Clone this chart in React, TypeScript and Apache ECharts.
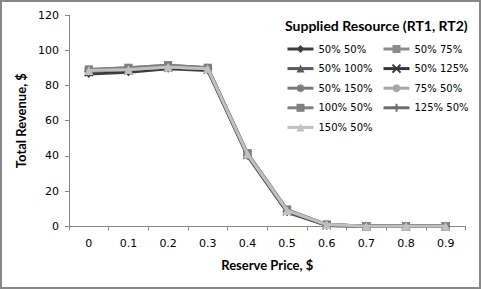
import React, { useEffect, useRef } from "react";
import * as echarts from "echarts";

const categories = ["0", "0.1", "0.2", "0.3", "0.4", "0.5", "0.6", "0.7", "0.8", "0.9"];
const seriesNames = ["50% 50%", "50% 75%", "50% 100%", "50% 125%", "50% 150%", "75% 50%", "100% 50%", "125% 50%", "150% 50%"];
const s50_50 = [86.5, 87.5, 89.5, 88.5, 40, 8, 0.5, 0, 0, 0];
const s50_75 = [89, 90, 91.5, 90, 41.5, 9.5, 1, 0, 0, 0];
const s50_100 = [88, 89, 91, 90, 41, 9, 1, 0, 0, 0];
const s50_125 = [87.5, 88.5, 90, 89, 40.5, 8.5, 0.5, 0, 0, 0];
const s50_150 = [88, 89, 90.5, 89.5, 41, 9, 1, 0, 0, 0];
const s75_50 = [88.5, 89, 90.5, 89.5, 41, 9, 1, 0, 0, 0];
const s100_50 = [89, 90, 91.5, 90, 41.5, 9.5, 1, 0, 0, 0];
const s125_50 = [88, 89, 90.5, 89.5, 40.5, 8.5, 0.5, 0, 0, 0];
const s150_50 = [88.5, 89, 90.5, 89.5, 41, 9, 1, 0, 0, 0];
const yTicks = [0, 20, 40, 60, 80, 100, 120];

const X_SYM = "path://M0,0L10,10M0,10L10,0";
const STAR_SYM = "path://M5,0L5,10M0,5L10,5M1.5,1.5L8.5,8.5M1.5,8.5L8.5,1.5";
const PLUS_SYM = "path://M5,0L5,10M0,5L10,5";

const styles = [
  { color: "#404040", symbol: "diamond", size: 8, stroke: false },
  { color: "#8c8c8c", symbol: "rect", size: 8, stroke: false },
  { color: "#5a5a5a", symbol: "triangle", size: 9, stroke: false },
  { color: "#353535", symbol: X_SYM, size: 8, stroke: true },
  { color: "#7a7a7a", symbol: STAR_SYM, size: 8, stroke: true },
  { color: "#a8a8a8", symbol: "circle", size: 8, stroke: false },
  { color: "#808080", symbol: "rect", size: 8, stroke: false },
  { color: "#6e6e6e", symbol: PLUS_SYM, size: 9, stroke: true },
  { color: "#c0c0c0", symbol: "triangle", size: 9, stroke: false },
];

const dataSets = [s50_50, s50_75, s50_100, s50_125, s50_150, s75_50, s100_50, s125_50, s150_50];

export default function App() {
  const ref = useRef<HTMLDivElement>(null);
  useEffect(() => {
    if (!ref.current) return;
    const chart = echarts.init(ref.current, undefined, { renderer: "svg" });
    const series = seriesNames.map((name, i) => {
      const st = styles[i];
      return {
        name,
        type: "line",
        data: dataSets[i],
        symbol: st.symbol,
        symbolSize: st.size,
        showAllSymbol: true,
        lineStyle: { color: st.color, width: 3 },
        itemStyle: st.stroke
          ? { color: st.color, borderColor: st.color, borderWidth: 1.2 }
          : { color: st.color, borderColor: st.color, borderWidth: 0 },
        emphasis: { disabled: true },
        z: 2 + i,
      };
    });
    const legendText = { fontFamily: "DejaVu Sans", fontSize: 10, color: "#000" };
    const legendCommon = {
      orient: "vertical",
      top: 44,
      padding: 0,
      itemWidth: 26,
      itemHeight: 10,
      itemGap: 9.6,
      textStyle: legendText,
      selectedMode: false,
      lineStyle: { width: 3 },
    };
    chart.setOption({
      animation: false,
      backgroundColor: "#fff",
      grid: { left: 69, right: 15.5, top: 15, bottom: 62.7, containLabel: false },
      title: {
        text: "Supplied Resource (RT1, RT2)",
        left: 285,
        top: 18,
        textStyle: { fontFamily: "Lato", fontWeight: "bold", fontSize: 14, color: "#000" },
        padding: 0,
      },
      legend: [
        {
          ...legendCommon,
          data: [seriesNames[0], seriesNames[2], seriesNames[4], seriesNames[6], seriesNames[8]],
          left: 286,
        },
        {
          ...legendCommon,
          data: [seriesNames[1], seriesNames[3], seriesNames[5], seriesNames[7]],
          left: 382,
        },
      ],
      xAxis: {
        type: "category",
        data: categories,
        boundaryGap: true,
        name: "Reserve Price, $",
        nameLocation: "middle",
        nameGap: 32,
        nameTextStyle: { fontFamily: "Lato", fontWeight: "bold", fontSize: 13, color: "#000" },
        axisLine: { lineStyle: { color: "#868686", width: 1 } },
        axisTick: { show: true, length: 4, inside: false, alignWithLabel: false, lineStyle: { color: "#868686" } },
        axisLabel: { fontFamily: "DejaVu Sans", fontSize: 11, color: "#000", margin: 12 },
        splitLine: { show: false },
      },
      yAxis: {
        type: "value",
        min: yTicks[0],
        max: yTicks[yTicks.length - 1],
        interval: 20,
        name: "Total Revenue, $",
        nameLocation: "middle",
        nameGap: 40,
        nameTextStyle: { fontFamily: "Lato", fontWeight: "bold", fontSize: 13, color: "#000" },
        axisLine: { show: true, lineStyle: { color: "#868686", width: 1 } },
        axisTick: { show: true, length: 4, lineStyle: { color: "#868686" } },
        axisLabel: { fontFamily: "DejaVu Sans", fontSize: 11, color: "#000", margin: 10 },
        splitLine: { show: false },
      },
      graphic: [
        {
          type: "rect",
          shape: { x: 1, y: 1, width: 479, height: 287 },
          style: { fill: "none", stroke: "#888", lineWidth: 2 },
          silent: true,
          z: 100,
        },
      ],
      series,
    });
    return () => chart.dispose();
  }, []);
  return (
    <div
      ref={ref}
      style={{ position: "fixed", left: 0, top: 0, width: 481, height: 289 }}
    />
  );
}
